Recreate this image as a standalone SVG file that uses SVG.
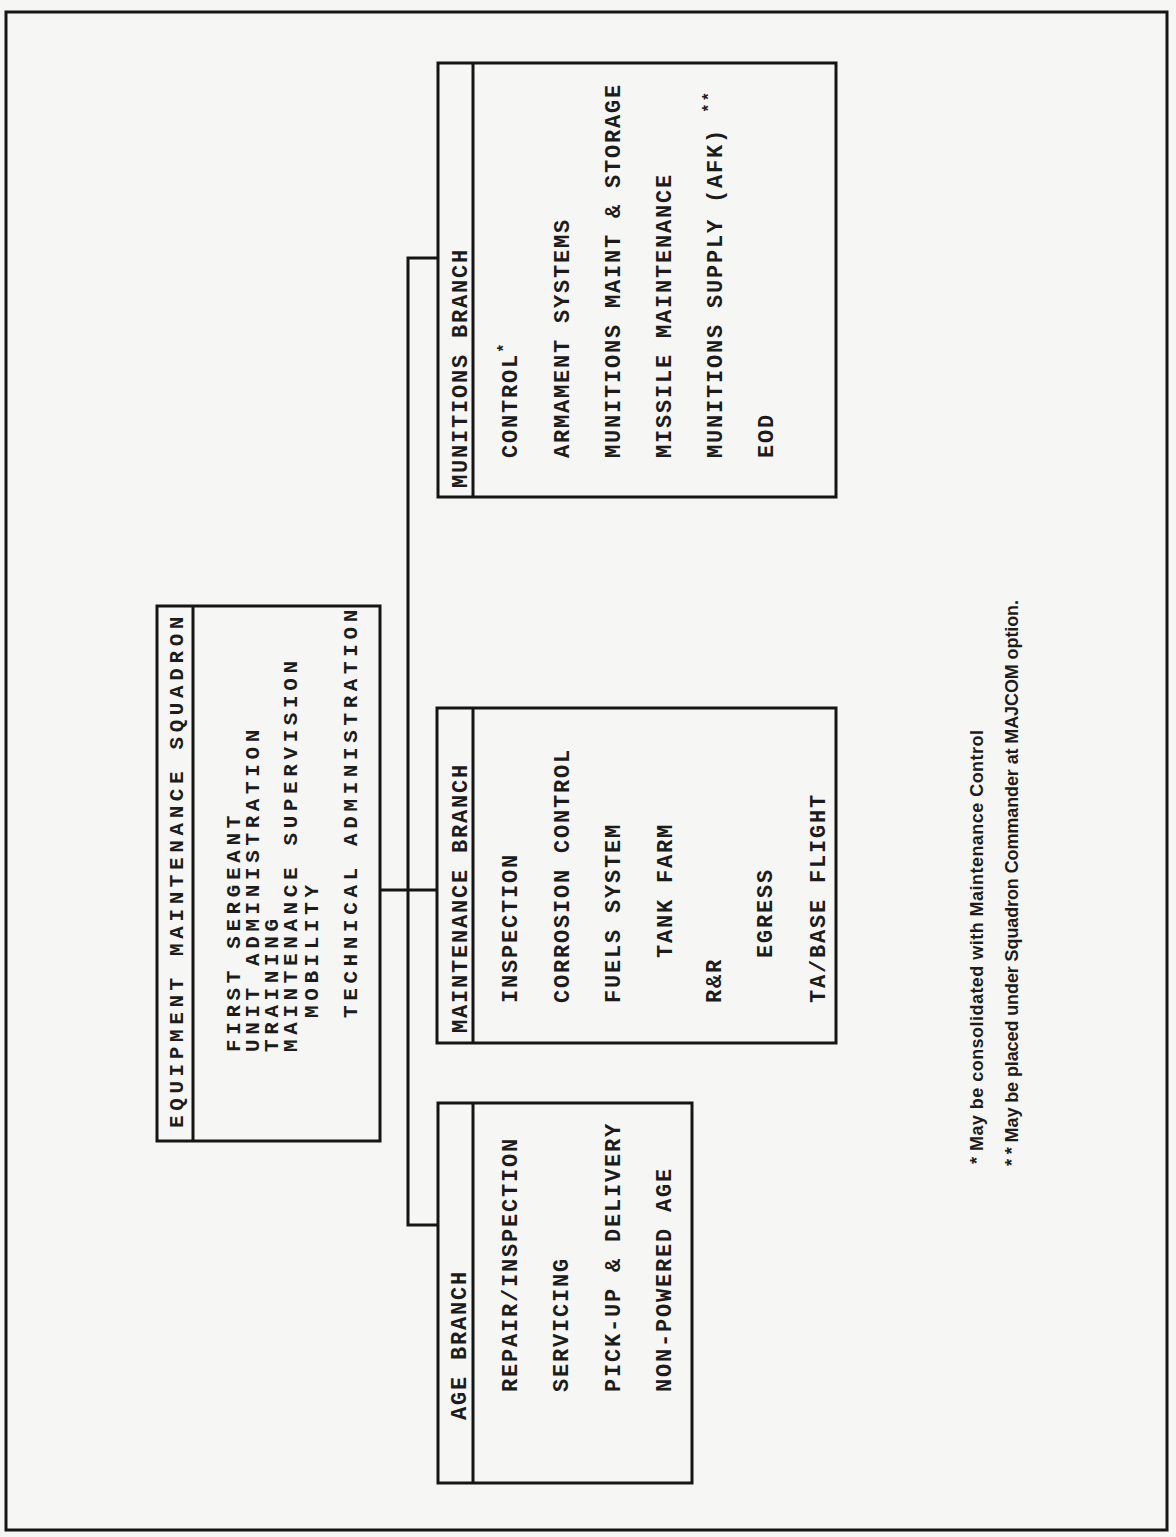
<svg xmlns="http://www.w3.org/2000/svg" width="1176" height="1537" viewBox="0 0 1176 1537">
<style>
.bg{fill:#f6f6f4}
.frame{fill:none;stroke:#151515;stroke-width:3}
.box{fill:#f6f6f4;stroke:#151515;stroke-width:3}
.div{stroke:#151515;stroke-width:3}
.con{fill:none;stroke:#151515;stroke-width:3}
.t{font-family:"Liberation Mono",monospace;font-weight:bold;font-size:22px;letter-spacing:1.8px;fill:#1c1c1c}
.e{font-family:"Liberation Mono",monospace;font-weight:bold;font-size:21px;letter-spacing:4.6px;fill:#1c1c1c}
.fn{font-family:"Liberation Sans",sans-serif;font-weight:bold;font-size:18px;fill:#1c1c1c}
.sup{font-size:16px}
</style>
<rect class="bg" x="0" y="0" width="1176" height="1537"/>
<rect class="frame" x="6" y="12" width="1161" height="1518"/>

<g id="connectors">
<line class="con" x1="380" y1="890" x2="437" y2="890"/>
<polyline class="con" points="438,258 408,258 408,1225 438,1225"/>
</g>

<g id="ems">
<rect class="box" x="157" y="606" width="223" height="535"/>
<line class="div" x1="193" y1="606" x2="193" y2="1141"/>
<text class="e" transform="translate(183,1128) rotate(-90)">EQUIPMENT MAINTENANCE SQUADRON</text>
<text class="e" transform="translate(240,1052) rotate(-90)">FIRST SERGEANT</text>
<text class="e" transform="translate(259,1052) rotate(-90)">UNIT ADMINISTRATION</text>
<text class="e" transform="translate(278,1052) rotate(-90)">TRAINING</text>
<text class="e" transform="translate(297,1052) rotate(-90)">MAINTENANCE SUPERVISION</text>
<text class="e" transform="translate(318,1018) rotate(-90)">MOBILITY</text>
<text class="e" transform="translate(357,1018) rotate(-90)">TECHNICAL ADMINISTRATION</text>
</g>

<g id="munitions">
<rect class="box" x="438" y="63" width="398" height="434"/>
<line class="div" x1="473" y1="63" x2="473" y2="497"/>
<text class="t" transform="translate(467,488) rotate(-90)">MUNITIONS BRANCH</text>
<text class="t" transform="translate(517,458) rotate(-90)">CONTROL<tspan class="sup" dy="-8">*</tspan></text>
<text class="t" transform="translate(569,458) rotate(-90)">ARMAMENT SYSTEMS</text>
<text class="t" transform="translate(620,458) rotate(-90)">MUNITIONS MAINT &amp; STORAGE</text>
<text class="t" transform="translate(671,458) rotate(-90)">MISSILE MAINTENANCE</text>
<text class="t" transform="translate(722,458) rotate(-90)">MUNITIONS SUPPLY (AFK) <tspan class="sup" dy="-8">**</tspan></text>
<text class="t" transform="translate(773,458) rotate(-90)">EOD</text>
</g>

<g id="maintenance">
<rect class="box" x="437" y="708" width="399" height="335"/>
<line class="div" x1="473" y1="708" x2="473" y2="1043"/>
<text class="t" transform="translate(467,1033) rotate(-90)">MAINTENANCE BRANCH</text>
<text class="t" transform="translate(517,1003) rotate(-90)">INSPECTION</text>
<text class="t" transform="translate(569,1003) rotate(-90)">CORROSION CONTROL</text>
<text class="t" transform="translate(620,1003) rotate(-90)">FUELS SYSTEM</text>
<text class="t" transform="translate(672,958) rotate(-90)">TANK FARM</text>
<text class="t" transform="translate(721,1003) rotate(-90)">R&amp;R</text>
<text class="t" transform="translate(772,958) rotate(-90)">EGRESS</text>
<text class="t" transform="translate(825,1003) rotate(-90)">TA/BASE FLIGHT</text>
</g>

<g id="age">
<rect class="box" x="438" y="1103" width="254" height="380"/>
<line class="div" x1="473" y1="1103" x2="473" y2="1483"/>
<text class="t" transform="translate(466,1420) rotate(-90)">AGE BRANCH</text>
<text class="t" transform="translate(517,1392) rotate(-90)">REPAIR/INSPECTION</text>
<text class="t" transform="translate(568,1392) rotate(-90)">SERVICING</text>
<text class="t" transform="translate(620,1392) rotate(-90)">PICK-UP &amp; DELIVERY</text>
<text class="t" transform="translate(671,1392) rotate(-90)">NON-POWERED AGE</text>
</g>

<g id="footnotes">
<text class="fn" transform="translate(983,1164) rotate(-90)" textLength="434" lengthAdjust="spacing">* May be consolidated with Maintenance Control</text>
<text class="fn" transform="translate(1018,1166) rotate(-90)" textLength="566" lengthAdjust="spacing">* * May be placed under Squadron Commander at MAJCOM option.</text>
</g>
</svg>
